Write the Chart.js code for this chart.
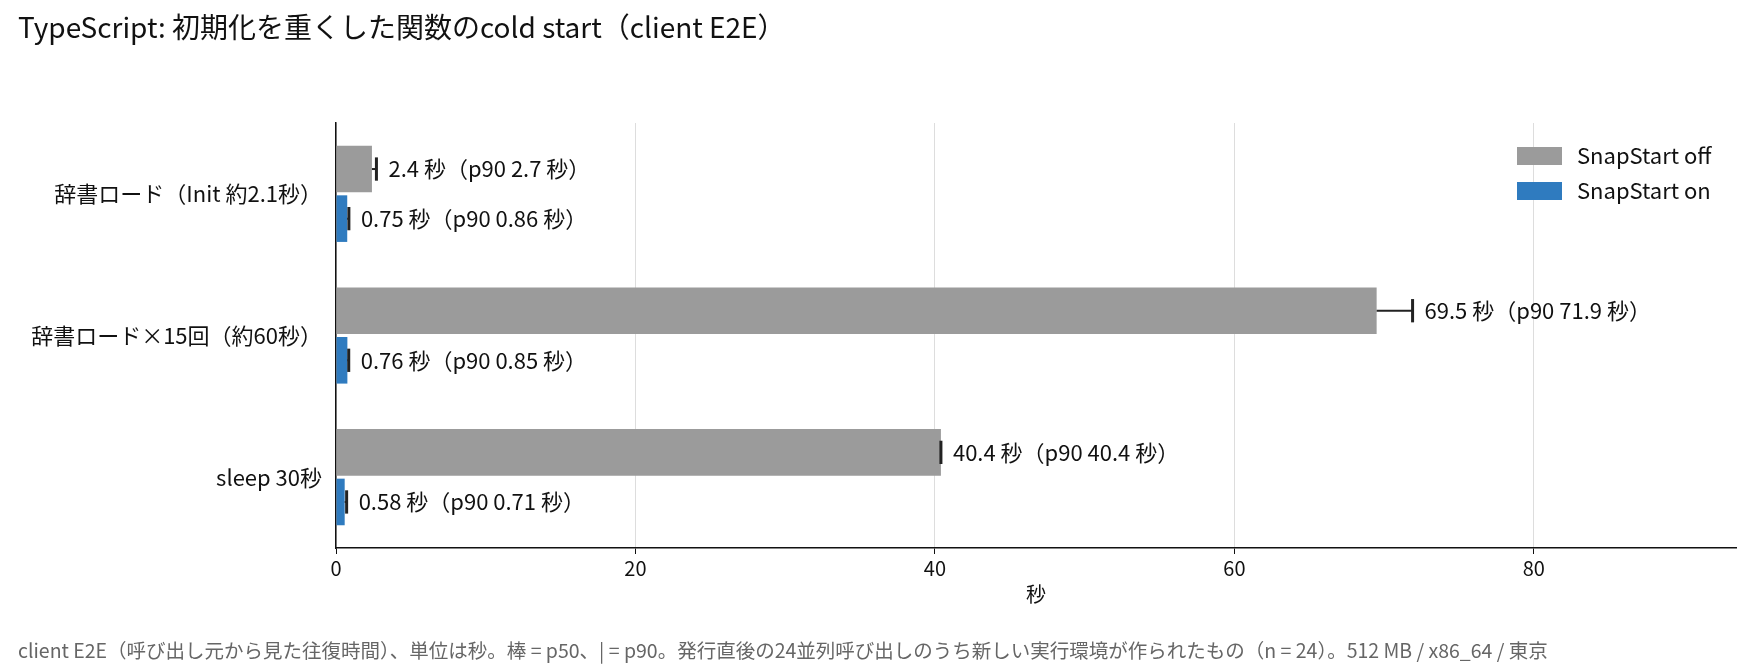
<!DOCTYPE html>
<html><head><meta charset="utf-8">
<script src="https://cdn.jsdelivr.net/npm/chart.js@4"></script>
<style>html,body{margin:0;padding:0;background:#fff}#w{width:1760px;height:672px}</style>
</head><body><div id="w"><canvas id="c"></canvas></div>
<script>
const categories = ["辞書ロード（Init 約2.1秒）", "辞書ロード×15回（約60秒）", "sleep 30秒"];
const seriesNames = ["SnapStart off", "SnapStart on"];
const p50Off = [2.4, 69.5, 40.4];
const p90Off = [2.7, 71.9, 40.4];
const p50On = [0.75, 0.76, 0.58];
const p90On = [0.86, 0.85, 0.71];
const xTicks = [0, 20, 40, 60, 80];
const titleText = "TypeScript: 初期化を重くした関数のcold start（client E2E）";
const footText = "client E2E（呼び出し元から見た往復時間）、単位は秒。棒 = p50、| = p90。発行直後の24並列呼び出しのうち新しい実行環境が作られたもの（n = 24）。512 MB / x86_64 / 東京";
const FONT = "'Noto Sans CJK JP','Noto Sans',sans-serif";
const p90s = [p90Off, p90On];

const extras = {
  id: 'extras',
  afterDatasetsDraw(chart) {
    const ctx = chart.ctx, xs = chart.scales.x;
    ctx.save();
    chart.data.datasets.forEach((ds, di) => {
      const meta = chart.getDatasetMeta(di);
      meta.data.forEach((bar, i) => {
        const y = bar.y, h = bar.height;
        const x50 = xs.getPixelForValue(ds.data[i]);
        const x90 = xs.getPixelForValue(p90s[di][i]);
        ctx.strokeStyle = '#222'; ctx.lineWidth = 2;
        ctx.beginPath(); ctx.moveTo(x50, y); ctx.lineTo(x90, y); ctx.stroke();
        ctx.lineWidth = 3;
        ctx.beginPath(); ctx.moveTo(x90, y - h * 0.25); ctx.lineTo(x90, y + h * 0.25); ctx.stroke();
        ctx.fillStyle = '#111'; ctx.font = "22px " + FONT; ctx.textBaseline = 'middle'; ctx.textAlign = 'left';
        ctx.fillText(ds.data[i] + " 秒（p90 " + p90s[di][i] + " 秒）", x90 + 12, y);
      });
    });
    const lx = 1517, ly = [156, 191];
    chart.data.datasets.forEach((ds, di) => {
      ctx.fillStyle = ds.backgroundColor;
      ctx.fillRect(lx, ly[di] - 9, 45, 18);
      ctx.fillStyle = '#111'; ctx.font = "22px " + FONT; ctx.textAlign = 'left'; ctx.textBaseline = 'middle';
      ctx.fillText(ds.label, lx + 60, ly[di]);
    });
    ctx.fillStyle = '#111'; ctx.font = "28px " + FONT; ctx.textBaseline = 'middle';
    ctx.fillText(titleText, 18, 27);
    ctx.fillStyle = '#666'; ctx.font = "19.5px " + FONT;
    ctx.fillText(footText, 18, 651);
    ctx.restore();
  }
};

new Chart(document.getElementById('c'), {
  type: 'bar',
  data: {
    labels: categories,
    datasets: [
      { label: seriesNames[0], data: p50Off, backgroundColor: '#9b9b9b' },
      { label: seriesNames[1], data: p50On, backgroundColor: '#2f7bbf' }
    ]
  },
  options: {
    indexAxis: 'y', responsive: true, maintainAspectRatio: false, animation: false,
    devicePixelRatio: 1,
    layout: { padding: { top: 123, right: 24, bottom: 62, left: 10 } },
    datasets: { bar: { categoryPercentage: 0.7, barPercentage: 0.94 } },
    plugins: { legend: { display: false }, tooltip: { enabled: false }, title: { display: false } },
    scales: {
      x: {
        min: 0, max: 93.5,
        afterBuildTicks(s) { s.ticks = xTicks.map(v => ({ value: v })); },
        grid: { color: '#dddddd', lineWidth: 1, drawTicks: true, tickLength: 6, tickColor: '#111' },
        border: { color: '#111', width: 1.5 },
        ticks: { color: '#111', font: { size: 20, family: FONT }, padding: 2 },
        title: { display: true, text: '秒', color: '#111', font: { size: 20, family: FONT }, padding: { top: 0 } },
        afterFit(s) { s.height = 62; }
      },
      y: {
        grid: { display: false, drawTicks: true, tickLength: 6, tickColor: '#111' },
        border: { color: '#111', width: 1.5 },
        ticks: { color: '#111', font: { size: 22, family: FONT }, padding: 8 },
        afterFit(s) { s.width = 326; }
      }
    }
  },
  plugins: [extras]
});
</script></body></html>
